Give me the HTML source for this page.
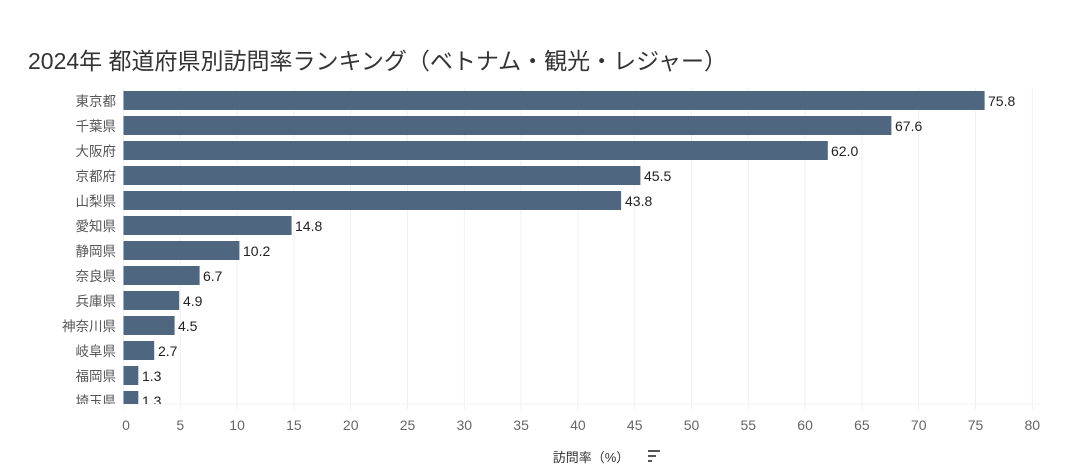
<!DOCTYPE html>
<html><head><meta charset="utf-8"><style>
body{margin:0;background:#fff;width:1068px;height:468px;overflow:hidden}
text{font-family:"Liberation Sans","Noto Sans CJK JP",sans-serif}
</style></head><body>
<svg width="1068" height="468" xmlns="http://www.w3.org/2000/svg">
<text x="28" y="69" font-size="23" fill="#333">2024年 都道府県別訪問率ランキング（ベトナム・観光・レジャー）</text>
<g stroke="#f0f0f0" stroke-width="1">
<line x1="123.5" y1="88" x2="123.5" y2="410"/><line x1="180.3" y1="88" x2="180.3" y2="410"/><line x1="237.1" y1="88" x2="237.1" y2="410"/><line x1="293.9" y1="88" x2="293.9" y2="410"/><line x1="350.7" y1="88" x2="350.7" y2="410"/><line x1="407.5" y1="88" x2="407.5" y2="410"/><line x1="464.3" y1="88" x2="464.3" y2="410"/><line x1="521.1" y1="88" x2="521.1" y2="410"/><line x1="577.9" y1="88" x2="577.9" y2="410"/><line x1="634.7" y1="88" x2="634.7" y2="410"/><line x1="691.5" y1="88" x2="691.5" y2="410"/><line x1="748.3" y1="88" x2="748.3" y2="410"/><line x1="805.1" y1="88" x2="805.1" y2="410"/><line x1="861.9" y1="88" x2="861.9" y2="410"/><line x1="918.7" y1="88" x2="918.7" y2="410"/><line x1="975.5" y1="88" x2="975.5" y2="410"/><line x1="1032.3" y1="88" x2="1032.3" y2="410"/>
<line x1="123" y1="404" x2="1040" y2="404"/>
</g>
<defs><clipPath id="c"><rect x="0" y="85" width="1068" height="319"/></clipPath></defs>
<g clip-path="url(#c)" font-size="14">
<g fill="#4e667f">
<rect x="123.5" y="91" width="861.1" height="19"/>
<rect x="123.5" y="116" width="767.9" height="19"/>
<rect x="123.5" y="141" width="704.3" height="19"/>
<rect x="123.5" y="166" width="516.9" height="19"/>
<rect x="123.5" y="191" width="497.6" height="19"/>
<rect x="123.5" y="216" width="168.1" height="19"/>
<rect x="123.5" y="241" width="115.9" height="19"/>
<rect x="123.5" y="266" width="76.1" height="19"/>
<rect x="123.5" y="291" width="55.7" height="19"/>
<rect x="123.5" y="316" width="51.1" height="19"/>
<rect x="123.5" y="341" width="30.7" height="19"/>
<rect x="123.5" y="366" width="14.8" height="19"/>
<rect x="123.5" y="391" width="14.8" height="19"/>
</g>
<g fill="#222">
<text x="988" y="106">75.8</text><text x="895" y="131">67.6</text><text x="831" y="156">62.0</text><text x="644" y="181">45.5</text><text x="625" y="206">43.8</text><text x="295" y="231">14.8</text><text x="243" y="256">10.2</text><text x="203" y="281">6.7</text><text x="183" y="306">4.9</text><text x="178" y="331">4.5</text><text x="158" y="356">2.7</text><text x="142" y="381">1.3</text><text x="142" y="406">1.3</text>
</g>
<g fill="#555" text-anchor="end" font-size="13.5">
<text x="116" y="106">東京都</text><text x="116" y="131">千葉県</text><text x="116" y="156">大阪府</text><text x="116" y="181">京都府</text><text x="116" y="206">山梨県</text><text x="116" y="231">愛知県</text><text x="116" y="256">静岡県</text><text x="116" y="281">奈良県</text><text x="116" y="306">兵庫県</text><text x="116" y="331">神奈川県</text><text x="116" y="356">岐阜県</text><text x="116" y="381">福岡県</text><text x="116" y="406">埼玉県</text>
</g>
</g>
<g fill="#666" font-size="14" text-anchor="middle">
<text x="126" y="430">0</text><text x="180.3" y="430">5</text><text x="237.1" y="430">10</text><text x="293.9" y="430">15</text><text x="350.7" y="430">20</text><text x="407.5" y="430">25</text><text x="464.3" y="430">30</text><text x="521.1" y="430">35</text><text x="577.9" y="430">40</text><text x="634.7" y="430">45</text><text x="691.5" y="430">50</text><text x="748.3" y="430">55</text><text x="805.1" y="430">60</text><text x="861.9" y="430">65</text><text x="918.7" y="430">70</text><text x="975.5" y="430">75</text><text x="1032.3" y="430">80</text>
</g>
<text x="591" y="462" font-size="13" fill="#333" text-anchor="middle">訪問率（%）</text>
<g fill="#555"><rect x="648" y="450" width="12" height="2"/><rect x="648" y="455" width="8" height="2"/><rect x="648" y="460" width="4" height="2"/></g>
</svg>
</body></html>
